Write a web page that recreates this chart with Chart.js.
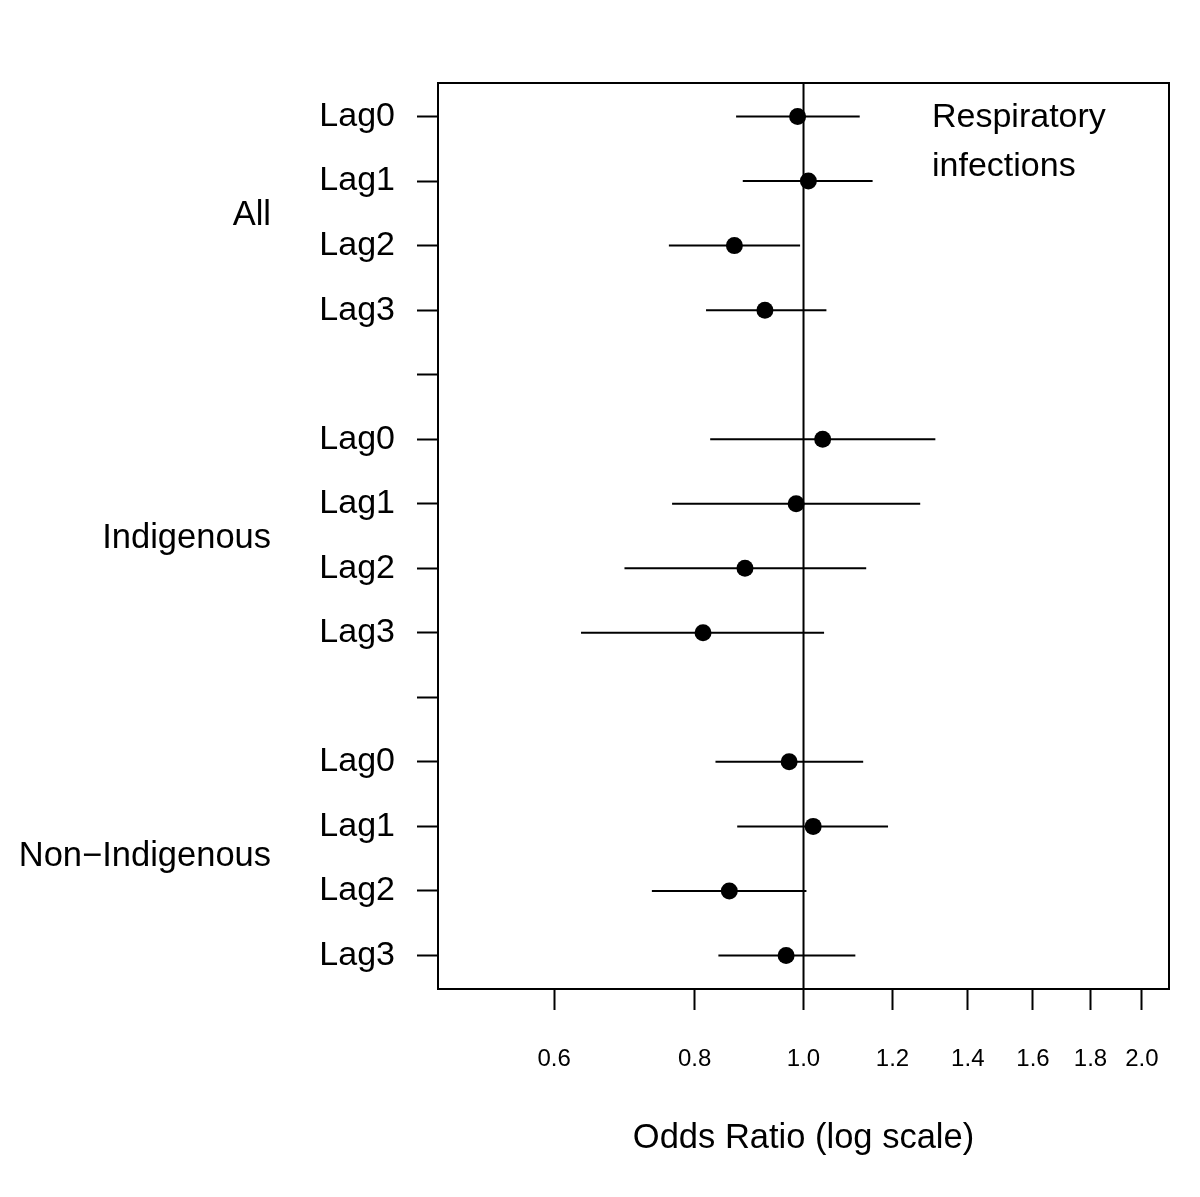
<!DOCTYPE html>
<html>
<head>
<meta charset="utf-8">
<title>Odds ratios - respiratory infections</title>
<script src="https://cdn.jsdelivr.net/npm/chart.js@4.4.0/dist/chart.umd.min.js"></script>
<style>
    body { margin: 0; background: #fff; }
    #wrap { width: 1200px; height: 1197px; }
</style>
</head>
<body>
<div id="wrap"><canvas id="myChart"></canvas></div>
<script>
// groups and where their labels sit (in row units)
const groups = ['All', 'Indigenous', 'Non\u2212Indigenous'];
const groupCenters = [2.5, 7.5, 12.43];

// one row per lag, empty rows 5 and 10 separate the groups
const rowLabels = ['Lag0', 'Lag1', 'Lag2', 'Lag3', '',
                   'Lag0', 'Lag1', 'Lag2', 'Lag3', '',
                   'Lag0', 'Lag1', 'Lag2', 'Lag3'];
const rows = [1, 2, 3, 4, 6, 7, 8, 9, 11, 12, 13, 14];

const oddsRatio = [0.988, 1.010, 0.868, 0.924,
                   1.040, 0.985, 0.887, 0.814,
                   0.971, 1.020, 0.859, 0.965];
const lower = [0.871, 0.883, 0.759, 0.819,
               0.826, 0.764, 0.693, 0.634,
               0.835, 0.873, 0.733, 0.840];
const upper = [1.122, 1.152, 0.993, 1.048,
               1.310, 1.270, 1.137, 1.043,
               1.130, 1.189, 1.006, 1.112];

const xTicks = [0.6, 0.8, 1.0, 1.2, 1.4, 1.6, 1.8, 2.0];
const yTicks = [1, 2, 3, 4, 5, 6, 7, 8, 9, 10, 11, 12, 13, 14];
const refLine = 1.0;

const FONT = "'Liberation Sans', Arimo, Arial, sans-serif";
Chart.defaults.color = '#000';
Chart.defaults.font.family = FONT;

// error bars, one line per row
let datasets = [];
for (let i = 0; i < rows.length; i++) {
    datasets.push({
        type: 'line',
        data: [{ x: lower[i], y: rows[i] }, { x: upper[i], y: rows[i] }],
        borderColor: '#000',
        borderWidth: 2,
        pointRadius: 0,
        fill: false
    });
}

// vertical line at OR = 1
datasets.push({
    type: 'line',
    data: [{ x: refLine, y: 0 }, { x: refLine, y: 15 }],
    borderColor: '#000',
    borderWidth: 2,
    pointRadius: 0,
    fill: false
});

// point estimates
datasets.push({
    type: 'scatter',
    data: rows.map((r, i) => ({ x: oddsRatio[i], y: r })),
    backgroundColor: '#000',
    borderColor: '#000',
    pointRadius: 8.5,
    borderWidth: 0
});

const extras = {
    id: 'extras',
    afterDraw(chart) {
        const ctx = chart.ctx;
        const a = chart.chartArea;
        const y = chart.scales.y;
        ctx.save();
        ctx.strokeStyle = '#000';
        ctx.lineWidth = 2;
        ctx.strokeRect(a.left, a.top, a.right - a.left, a.bottom - a.top);

        ctx.fillStyle = '#000';
        ctx.font = '34.5px ' + FONT;
        ctx.textBaseline = 'middle';
        ctx.textAlign = 'right';
        for (let i = 0; i < groups.length; i++) {
            ctx.fillText(groups[i], a.left - 167, y.getPixelForValue(groupCenters[i]) + 2);
        }

        ctx.font = '34px ' + FONT;
        ctx.textAlign = 'left';
        ctx.fillText('Respiratory', a.left + 494, a.top + 35);
        ctx.fillText('infections', a.left + 494, a.top + 84);
        ctx.restore();
    }
};

new Chart('myChart', {
    data: { datasets: datasets },
    options: {
        responsive: true,
        maintainAspectRatio: false,
        animation: false,
        layout: { padding: { top: 83, right: 31, left: 0, bottom: 0 } },
        plugins: { legend: { display: false }, tooltip: { enabled: false } },
        scales: {
            x: {
                type: 'logarithmic',
                position: 'bottom',
                min: 0.473,
                max: 2.114,
                afterBuildTicks: s => { s.ticks = xTicks.map(v => ({ value: v })); },
                afterFit: s => { s.height = 208; },
                grid: {
                    drawOnChartArea: false,
                    drawTicks: true,
                    tickLength: 21,
                    tickWidth: 2,
                    tickColor: '#000'
                },
                border: { display: true, color: '#000', width: 2 },
                ticks: {
                    autoSkip: false,
                    maxRotation: 0,
                    padding: 35,
                    font: { size: 24 },
                    callback: v => Number(v).toFixed(1)
                },
                title: {
                    display: true,
                    text: 'Odds Ratio (log scale)',
                    font: { size: 34.5 },
                    padding: { top: 0, bottom: 38 }
                }
            },
            y: {
                type: 'linear',
                position: 'left',
                reverse: true,
                min: 0.48,
                max: 14.52,
                afterBuildTicks: s => { s.ticks = yTicks.map(v => ({ value: v })); },
                afterFit: s => { s.width = 438; },
                grid: {
                    drawOnChartArea: false,
                    drawTicks: true,
                    tickLength: 21,
                    tickWidth: 2,
                    tickColor: '#000'
                },
                border: { display: true, color: '#000', width: 2 },
                ticks: {
                    autoSkip: false,
                    padding: 22,
                    font: { size: 34 },
                    callback: (v, i) => rowLabels[i]
                }
            }
        }
    },
    plugins: [extras]
});
</script>
</body>
</html>
